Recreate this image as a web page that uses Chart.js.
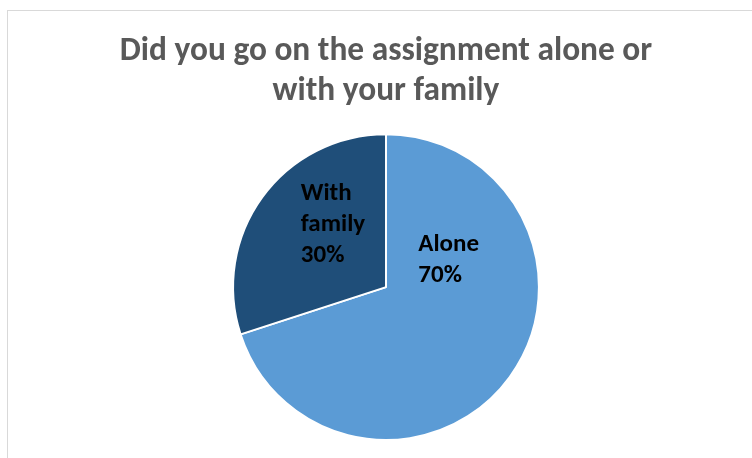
<!DOCTYPE html>
<html lang="en">
<head>
    <meta charset="UTF-8">
    <title>Did you go on the assignment alone or with your family</title>
    <script src="https://cdn.jsdelivr.net/npm/chart.js"></script>
    <style>
        html, body { margin: 0; padding: 0; background: #fff; }
        .wrap { position: relative; width: 752px; height: 458px; overflow: hidden; }
        .frame {
            position: absolute; left: 7px; top: 10px; width: 800px; height: 500px;
            border-left: 1px solid #d9d9d9; border-top: 1px solid #d9d9d9;
        }
        canvas { position: absolute; left: 0; top: 0; }
    </style>
</head>
<body>
    <div class="wrap">
        <div class="frame"></div>
        <canvas id="pieChart" width="752" height="458"></canvas>
    </div>

    <script>
        // Data
        const categories = ['Alone', 'With family'];
        const shares = [70, 30];
        const labelLines = [['Alone'], ['With', 'family']];
        const titleLines = ['Did you go on the assignment alone or', 'with your family'];

        const FONT = "Carlito, 'Open Sans', sans-serif";

        // Labels inside the slices (name + percentage, left aligned block)
        const sliceLabels = {
            id: 'sliceLabels',
            afterDatasetsDraw(chart, args, opts) {
                const ctx = chart.ctx;
                const meta = chart.getDatasetMeta(0);
                const data = chart.data.datasets[0].data;
                const total = data.reduce((a, b) => a + b, 0);
                ctx.save();
                ctx.font = opts.font;
                ctx.fillStyle = opts.color;
                ctx.textBaseline = 'middle';
                ctx.textAlign = 'left';
                meta.data.forEach((arc, i) => {
                    const p = arc.getProps(['x', 'y', 'startAngle', 'endAngle', 'outerRadius'], true);
                    const a = p.startAngle + (p.endAngle - p.startAngle) * opts.angleFrac[i];
                    const r = p.outerRadius * opts.radiusFrac[i];
                    const cx = p.x + Math.cos(a) * r;
                    const cy = p.y + Math.sin(a) * r;
                    const lines = labelLines[i].concat([Math.round(data[i] / total * 100) + '%']);
                    const w = Math.max(...lines.map(l => ctx.measureText(l).width));
                    const x0 = cx - w / 2;
                    const y0 = cy - (lines.length - 1) * opts.lineHeight / 2;
                    lines.forEach((l, k) => ctx.fillText(l, x0, y0 + k * opts.lineHeight));
                });
                ctx.restore();
            }
        };

        const ctx = document.getElementById('pieChart').getContext('2d');
        new Chart(ctx, {
            type: 'pie',
            data: {
                labels: categories,
                datasets: [{
                    data: shares,
                    backgroundColor: ['#5b9bd5', '#1f4e79'],
                    borderColor: '#ffffff',
                    borderWidth: 2
                }]
            },
            options: {
                responsive: false,
                animation: false,
                layout: { padding: { left: 20, right: 0, top: 0, bottom: 17 } },
                plugins: {
                    legend: { display: false },
                    tooltip: { enabled: false },
                    title: {
                        display: true,
                        text: titleLines,
                        color: '#595959',
                        font: { family: FONT, size: 33.4, weight: 'bold', lineHeight: 1.2 },
                        padding: { top: 32, bottom: 21 }
                    },
                    sliceLabels: {
                        font: "bold 25px " + FONT,
                        color: '#000000',
                        lineHeight: 31,
                        angleFrac: [0.266, 0.625],
                        radiusFrac: [0.445, 0.534]
                    }
                }
            },
            plugins: [sliceLabels]
        });
    </script>
</body>
</html>
